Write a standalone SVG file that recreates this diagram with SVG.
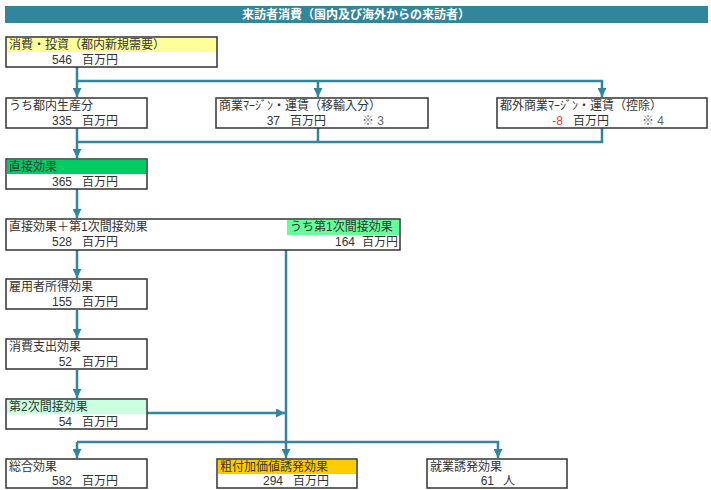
<svg xmlns="http://www.w3.org/2000/svg" width="711" height="490" viewBox="0 0 711 490">
<defs>
<style>
text{font-family:"Liberation Sans","Noto Sans CJK JP",sans-serif;font-size:12px;fill:#333}
.box{fill:#fff;stroke:#333;stroke-width:1.5}
.num{text-anchor:end}
.conn{fill:none;stroke:#31869B;stroke-width:2.5}
.title{fill:#fff;font-weight:bold;text-anchor:middle}
.note{fill:#666}
</style>
<marker id="ah" viewBox="0 0 10 10" refX="10" refY="5" markerUnits="userSpaceOnUse" markerWidth="9" markerHeight="9" orient="auto">
<path d="M0,0 L10,5 L0,10 z" fill="#31869B"/>
</marker>
</defs>
<rect width="711" height="490" fill="#fff"/>
<g id="title">
<rect x="5" y="6" width="703" height="17" fill="#31869B"/>
<text class="title" x="356" y="19">来訪者消費（国内及び海外からの来訪者）</text>
</g>
<g id="connectors">
<path class="conn" d="M77 67 V97" marker-end="url(#ah)"/>
<path class="conn" d="M77 81 H602 V97" marker-end="url(#ah)"/>
<path class="conn" d="M318 81 V97" marker-end="url(#ah)"/>
<path class="conn" d="M318 128 V142"/>
<path class="conn" d="M602 128 V142 H77"/>
<path class="conn" d="M77 128 V158" marker-end="url(#ah)"/>
<path class="conn" d="M77 189 V218" marker-end="url(#ah)"/>
<path class="conn" d="M77 250 V278" marker-end="url(#ah)"/>
<path class="conn" d="M77 310 V338" marker-end="url(#ah)"/>
<path class="conn" d="M77 370 V398" marker-end="url(#ah)"/>
<path class="conn" d="M286 250 V458" marker-end="url(#ah)"/>
<path class="conn" d="M147 413 H285" marker-end="url(#ah)"/>
<path class="conn" d="M77 442 H498 V458" marker-end="url(#ah)"/>
<path class="conn" d="M77 442 V458" marker-end="url(#ah)"/>
</g>
<g id="n1">
<rect class="box" x="6" y="37" width="211" height="30"/>
<rect x="7" y="38" width="209" height="14" fill="#FFFF99"/>
<text x="9" y="49">消費・投資（都内新規需要）</text>
<text class="num" x="72" y="64">546</text><text x="82" y="64">百万円</text>
</g>
<g id="n2">
<rect class="box" x="6" y="98" width="141" height="30"/>
<text x="9" y="110">うち都内生産分</text>
<text class="num" x="72" y="125">335</text><text x="82" y="125">百万円</text>
</g>
<g id="n3">
<rect class="box" x="216" y="98" width="212" height="30"/>
<text x="219" y="110">商業ﾏｰｼﾞﾝ・運賃（移輸入分）</text>
<text class="num" x="280" y="125">37</text><text x="290" y="125">百万円</text>
<text class="note" x="362" y="125">※ 3</text>
</g>
<g id="n4">
<rect class="box" x="497" y="98" width="210" height="30"/>
<text x="500" y="110">都外商業ﾏｰｼﾞﾝ・運賃（控除）</text>
<text class="num" x="563" y="125" style="fill:#FF3333">-8</text><text x="573" y="125">百万円</text>
<text class="note" x="642" y="125">※ 4</text>
</g>
<g id="n5">
<rect class="box" x="6" y="159" width="141" height="30"/>
<rect x="7" y="160" width="139" height="14" fill="#00CC66"/>
<text x="9" y="171">直接効果</text>
<text class="num" x="72" y="186">365</text><text x="82" y="186">百万円</text>
</g>
<g id="n6">
<rect class="box" x="6" y="219" width="394" height="31"/>
<rect x="287" y="220" width="112" height="15" fill="#66FF99"/>
<text x="9" y="231">直接効果＋第1次間接効果</text>
<text class="num" x="72" y="246">528</text><text x="82" y="246">百万円</text>
<text x="290" y="231">うち第1次間接効果</text>
<text class="num" x="355" y="246">164</text><text x="362" y="246">百万円</text>
</g>
<g id="n7">
<rect class="box" x="6" y="279" width="141" height="30"/>
<text x="9" y="291">雇用者所得効果</text>
<text class="num" x="72" y="306">155</text><text x="82" y="306">百万円</text>
</g>
<g id="n8">
<rect class="box" x="6" y="339" width="141" height="30"/>
<text x="9" y="351">消費支出効果</text>
<text class="num" x="72" y="366">52</text><text x="82" y="366">百万円</text>
</g>
<g id="n9">
<rect class="box" x="6" y="399" width="141" height="30"/>
<rect x="7" y="400" width="139" height="14" fill="#CCFFE0"/>
<text x="9" y="411">第2次間接効果</text>
<text class="num" x="72" y="426">54</text><text x="82" y="426">百万円</text>
</g>
<g id="n10">
<rect class="box" x="6" y="459" width="141" height="29"/>
<text x="9" y="471">総合効果</text>
<text class="num" x="72" y="485">582</text><text x="82" y="485">百万円</text>
</g>
<g id="n11">
<rect class="box" x="217" y="459" width="140" height="29"/>
<rect x="218" y="460" width="138" height="14" fill="#FFCC00"/>
<text x="220" y="471">粗付加価値誘発効果</text>
<text class="num" x="283" y="485">294</text><text x="293" y="485">百万円</text>
</g>
<g id="n12">
<rect class="box" x="427" y="459" width="140" height="29"/>
<text x="430" y="471">就業誘発効果</text>
<text class="num" x="494" y="485">61</text><text x="503" y="485">人</text>
</g>
</svg>
